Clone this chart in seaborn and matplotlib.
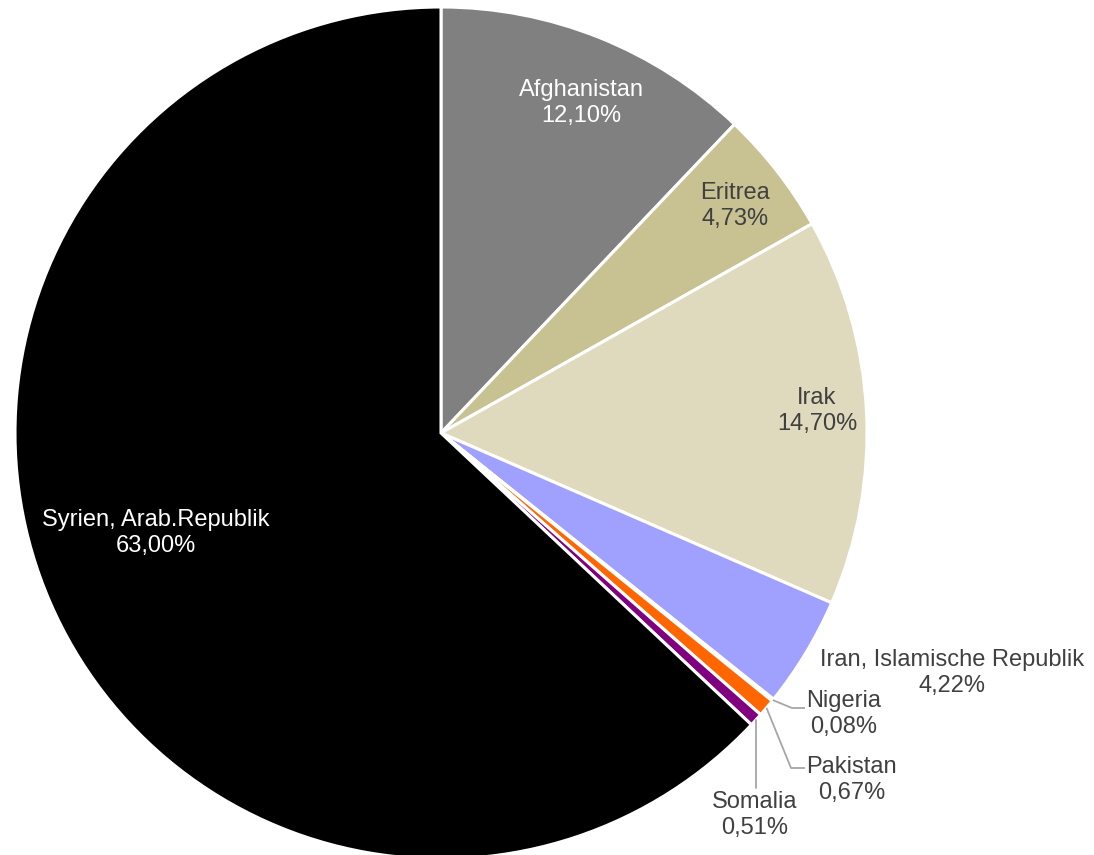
import matplotlib
matplotlib.use("Agg")
import matplotlib.pyplot as plt
import seaborn as sns
import numpy as np

sns.set_theme(style="white")
plt.rcParams['font.family'] = ['Liberation Sans', 'DejaVu Sans']

countries = ["Afghanistan", "Eritrea", "Irak", "Iran, Islamische Republik",
             "Nigeria", "Pakistan", "Somalia", "Syrien, Arab.Republik"]
shares = [12.10, 4.73, 14.70, 4.22, 0.08, 0.67, 0.51, 63.00]
pct_labels = ["12,10%", "4,73%", "14,70%", "4,22%", "0,08%", "0,67%", "0,51%", "63,00%"]
colors = ["#808080", "#C8C292", "#DFDABD", "#A0A0FF", "#4F81BD", "#FF6600", "#800080", "#000000"]
text_colors = ["white", "#404040", "#404040", "#404040", "#404040", "#404040", "#404040", "white"]

W, H = 1094, 855
cx, cy, R = 441, 433, 426

def px(x, y):
    return (x - cx) / R, (cy - y) / R

fig = plt.figure(figsize=(W / 100, H / 100), dpi=100)
ax = fig.add_axes([0, 0, 1, 1])
ax.pie(shares, colors=colors, startangle=90, counterclock=False, radius=1.0,
       wedgeprops=dict(edgecolor="white", linewidth=2.2))
ax.set_xlim(-cx / R, (W - cx) / R)
ax.set_ylim(-(H - cy) / R, cy / R)
ax.set_aspect("equal")
ax.axis("off")

# angle of slice midpoints
cum = np.cumsum([0] + shares[:-1])
total = sum(shares)
mid_ang = np.deg2rad(90 - (cum + np.array(shares) / 2) / total * 360)

fs = 17
# label placements (pixel coords of label centre)
inside = {0: (581, 103), 1: (735, 206), 2: (817, 411), 3: (952, 673), 7: (156, 533)}
for i, (lx, ly) in inside.items():
    x, y = px(lx, ly)
    ax.text(x, y, f"{countries[i]}\n{pct_labels[i]}", ha="center", va="center",
            fontsize=fs, color=text_colors[i], linespacing=1.2)

lc = "#A6A6A6"
# Nigeria
for i, elbow, end, tpos, ha in [
    (4, (792, 708), (805, 708), (806, 714), "left"),
    (5, (791, 768), (805, 768), (806, 780), "left"),
]:
    ex, ey = np.cos(mid_ang[i]), np.sin(mid_ang[i])
    bx, by = px(*elbow)
    qx, qy = px(*end)
    ax.plot([ex, bx, qx], [ey, by, qy], color=lc, lw=1.3, solid_capstyle="butt")
    tx, ty = px(*tpos)
    ax.text(tx, ty, f"{countries[i]}\n{pct_labels[i]}", ha=ha, va="center",
            multialignment="center", fontsize=fs, color=text_colors[i], linespacing=1.2)

# Somalia
i = 6
ex, ey = np.cos(mid_ang[i]), np.sin(mid_ang[i])
qx, qy = px(0, 788)
ax.plot([ex, ex], [ey, qy], color=lc, lw=1.3)
tx, ty = px(755, 815)
ax.text(tx, ty, f"{countries[i]}\n{pct_labels[i]}", ha="center", va="center",
        fontsize=fs, color=text_colors[i], linespacing=1.2)

fig.savefig("out.png", dpi=100, facecolor="white")
